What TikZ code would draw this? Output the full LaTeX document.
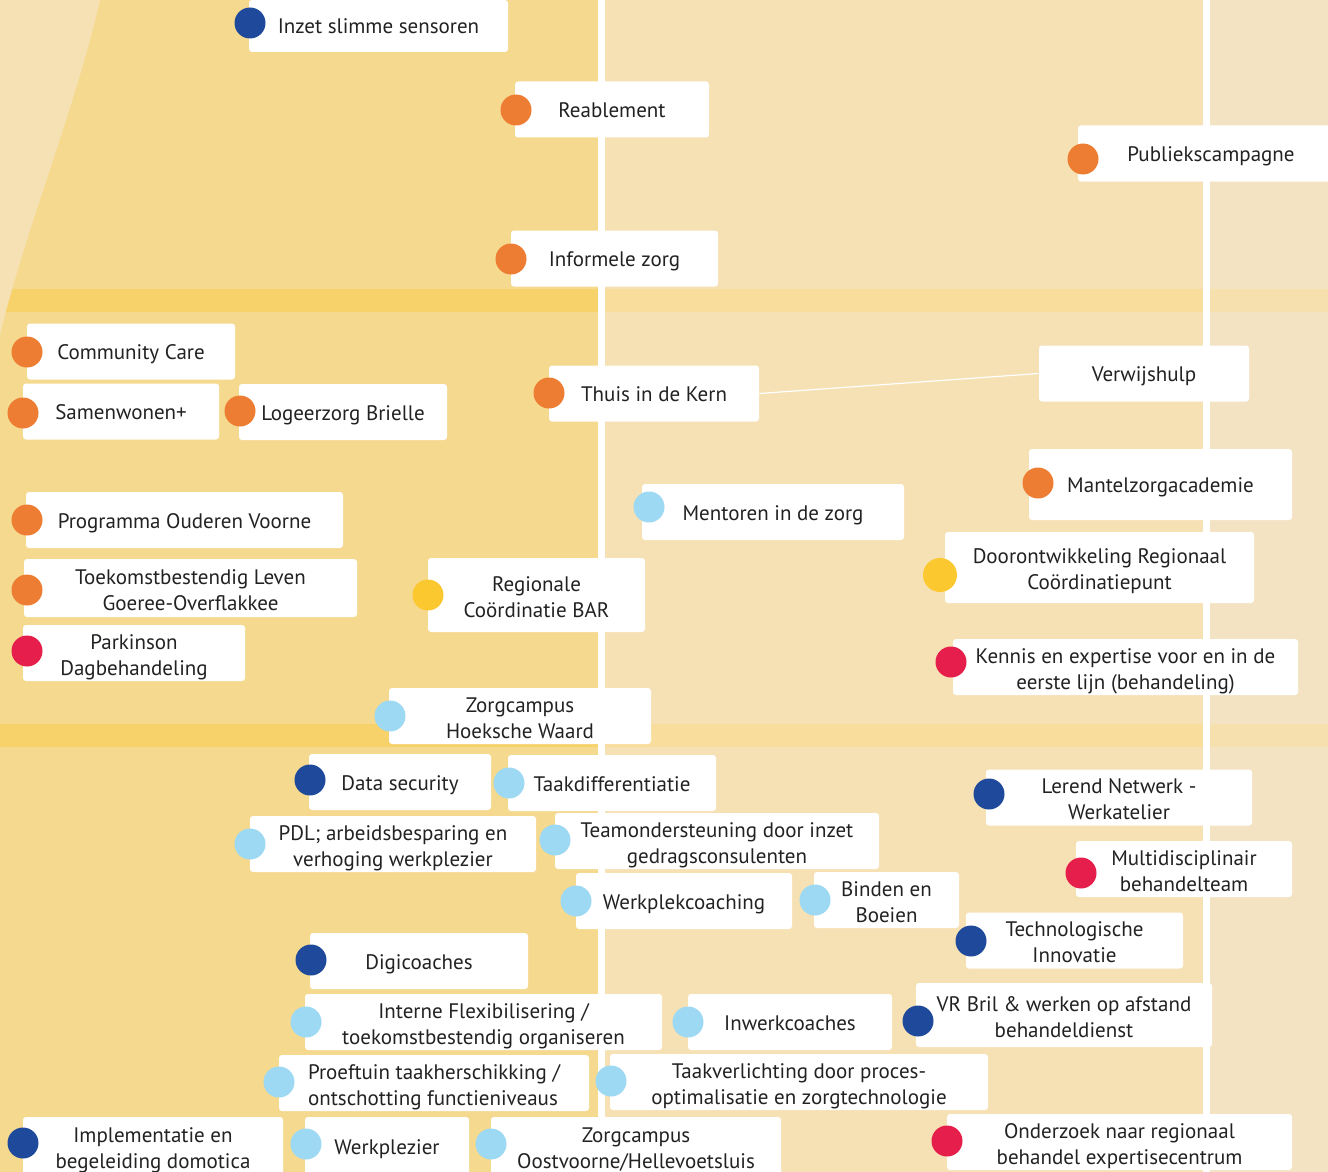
\documentclass[tikz,border=0pt]{standalone}
\usepackage{fontspec}
\setmainfont{PT Sans}

\definecolor{navy}{HTML}{1F4A9B}
\definecolor{oranje}{HTML}{ED7D33}
\definecolor{lichtblauw}{HTML}{9DD9F3}
\definecolor{geel}{HTML}{FBC82F}
\definecolor{rood}{HTML}{E51E4B}
\definecolor{bgleft}{HTML}{F5D98F}
\definecolor{bgmid}{HTML}{F6E1B4}
\definecolor{bgright}{HTML}{F3E3C3}
\definecolor{bandleft}{HTML}{F7D26A}
\definecolor{bandmid}{HTML}{F9DD9D}
\definecolor{bandright}{HTML}{F6E0AE}
\definecolor{tekst}{HTML}{222222}

\tikzset{
  item/.style={fill=white, rounded corners=1.5pt, inner sep=0pt, align=center,
    text=tekst, font=\fontsize{10.5}{13}\selectfont, minimum height=28pt,
    text height=8pt, text depth=0pt},
  twee/.style={item, text height=22pt},
  dot/.style={circle, fill=#1, inner sep=0pt, minimum size=15.5pt},
}

\begin{document}
\begin{tikzpicture}[x=0.5pt,y=-0.5pt]
	    \clip (0,0) rectangle (1328,1172);
	    % achtergrond
	    \fill[bgleft] (0,0) rectangle (601,1172);
	    \fill[bgmid] (601,0) rectangle (1206,1172);
	    \fill[bgright] (1206,0) rectangle (1328,1172);
	    \fill[bandleft] (0,289) rectangle (601,312);
	    \fill[bandleft] (0,724) rectangle (601,747);
	    \fill[bandmid] (601,289) rectangle (1206,312);
	    \fill[bandmid] (601,724) rectangle (1206,747);
	    \fill[bandright] (1206,289) rectangle (1328,312);
	    \fill[bandright] (1206,724) rectangle (1328,747);
	    \fill[bgmid] (0,0) -- (100,0) .. controls (75,110) and (25,230) .. (0,335) -- cycle;
	    \fill[white] (598,0) rectangle (605,1172);
	    \fill[white] (1203,0) rectangle (1210,1172);
	    % rij 1
	    \node[item, minimum width=129.5pt, minimum height=26pt] (inzet) at (378.5,26) {Inzet slimme sensoren};
	    \node[item, minimum width=97pt] (reable) at (612,109.5) {Reablement};
	    \node[item, minimum width=133pt] (publiek) at (1211,153.5) {Publiekscampagne};
	    \node[item, minimum width=103.5pt] (informele) at (614.5,258.5) {Informele zorg};
	    \node[dot=navy] (inzet-d) at (250,23) {};
	    \node[dot=oranje] (reable-d) at (516,110) {};
	    \node[dot=oranje] (publiek-d) at (1083,159) {};
	    \node[dot=oranje] (informele-d) at (511,259) {};
	    % rij 2
	    \node[item, minimum width=104pt] (community) at (131,351.5) {Community Care};
	    \node[item, minimum width=98pt] (samen) at (121,411.5) {Samenwonen+};
	    \node[item, minimum width=104pt] (logeer) at (343,412) {Logeerzorg Brielle};
	    \node[item, minimum width=105pt] (thuis) at (654,393.5) {Thuis in de Kern};
	    \node[item, minimum width=105pt] (verwijs) at (1144,373.5) {Verwijshulp};
	    \draw[white, line width=0.6pt] (thuis.east) -- (verwijs.west);
	    \node[item, minimum width=131.5pt, minimum height=35.5pt] (mantel) at (1160.5,484.5) {Mantelzorgacademie};
	    \node[item, minimum width=131pt] (mentoren) at (773,512) {Mentoren in de zorg};
	    \node[item, minimum width=158.5pt] (programma) at (184.5,520) {Programma Ouderen Voorne};
	    \node[twee, minimum width=166.5pt, minimum height=29pt] (toekomst) at (190.5,588) {Toekomstbestendig Leven\\Goeree-Overflakkee};
	    \node[twee, minimum width=108.5pt, minimum height=37pt] (regionale) at (536.5,595) {Regionale\\Coördinatie BAR};
	    \node[twee, minimum width=154.5pt, minimum height=35.5pt] (dooront) at (1099.5,567.5) {Doorontwikkeling Regionaal\\Coördinatiepunt};
	    \node[twee, minimum width=111pt] (parkinson) at (134,653) {Parkinson\\Dagbehandeling};
	    \node[twee, minimum width=172.5pt] (kennis) at (1125.5,667) {Kennis en expertise voor en in de\\eerste lijn (behandeling)};
	    \node[twee, minimum width=131pt] (zchw) at (520,716) {Zorgcampus\\Hoeksche Waard};
	    \node[dot=oranje] (community-d) at (27,352) {};
	    \node[dot=oranje] (samen-d) at (23,413) {};
	    \node[dot=oranje] (logeer-d) at (240,411) {};
	    \node[dot=oranje] (thuis-d) at (549,393) {};
	    \node[dot=oranje] (mantel-d) at (1038,483) {};
	    \node[dot=lichtblauw] (mentoren-d) at (649,507) {};
	    \node[dot=oranje] (programma-d) at (27,520) {};
	    \node[dot=oranje] (toekomst-d) at (27,590) {};
	    \node[dot=geel] (regionale-d) at (428,595) {};
	    \node[dot=geel, minimum size=17pt] (dooront-d) at (940,575) {};
	    \node[dot=rood] (parkinson-d) at (27,651) {};
	    \node[dot=rood] (kennis-d) at (951,662) {};
	    \node[dot=lichtblauw] (zchw-d) at (390,716) {};
	    % rij 3
	    \node[item, minimum width=91pt] (data) at (400,782) {Data security};
	    \node[item, minimum width=104pt] (taakdiff) at (612,783) {Taakdifferentiatie};
	    \node[twee, minimum width=133pt] (lerend) at (1119,797.5) {Lerend Netwerk -\\Werkatelier};
	    \node[twee, minimum width=143pt] (pdl) at (393,844) {PDL; arbeidsbesparing en\\verhoging werkplezier};
	    \node[twee, minimum width=162pt] (team) at (717,841) {Teamondersteuning door inzet\\gedragsconsulenten};
	    \node[twee, minimum width=108pt] (multi) at (1184,869) {Multidisciplinair\\behandelteam};
	    \node[item, minimum width=108pt] (werkplek) at (684,901) {Werkplekcoaching};
	    \node[twee, minimum width=72.5pt] (binden) at (886.5,900) {Binden en\\Boeien};
	    \node[twee, minimum width=108.5pt] (techno) at (1074.5,940.5) {Technologische\\Innovatie};
	    \node[item, minimum width=109pt] (digi) at (419,961) {Digicoaches};
	    \node[twee, minimum width=178.5pt] (interne) at (483.5,1022) {Interne Flexibilisering /\\toekomstbestendig organiseren};
	    \node[item, minimum width=102pt] (inwerk) at (790,1022) {Inwerkcoaches};
	    \node[twee, minimum width=148pt, minimum height=32pt] (vrbril) at (1064,1015) {VR Bril \& werken op afstand\\behandeldienst};
	    \node[twee, minimum width=155pt, align=left] (proeftuin) at (434,1083) {Proeftuin taakherschikking /\\ontschotting functieniveaus};
	    \node[twee, minimum width=189pt] (taakverl) at (799,1082) {Taakverlichting door proces-\\optimalisatie en zorgtechnologie};
	    \node[twee, minimum width=130pt, minimum height=29pt] (implem) at (153,1146) {Implementatie en\\begeleiding domotica};
	    \node[item, minimum width=82pt, minimum height=29pt] (werkplezier) at (387,1146) {Werkplezier};
	    \node[twee, minimum width=145pt, minimum height=29pt] (zcov) at (636,1146) {Zorgcampus\\Oostvoorne/Hellevoetsluis};
	    \node[twee, minimum width=172.5pt] (onderzoek) at (1119.5,1142) {Onderzoek naar regionaal\\behandel expertisecentrum};
	    \node[dot=navy] (data-d) at (310,780) {};
	    \node[dot=lichtblauw] (taakdiff-d) at (509,783) {};
	    \node[dot=navy] (lerend-d) at (989,794) {};
	    \node[dot=lichtblauw] (pdl-d) at (250,844) {};
	    \node[dot=lichtblauw] (team-d) at (555,840) {};
	    \node[dot=rood] (multi-d) at (1081,873) {};
	    \node[dot=lichtblauw] (werkplek-d) at (576,901) {};
	    \node[dot=lichtblauw] (binden-d) at (815,900) {};
	    \node[dot=navy] (techno-d) at (971,941) {};
	    \node[dot=navy] (digi-d) at (311,960) {};
	    \node[dot=lichtblauw] (interne-d) at (306,1022) {};
	    \node[dot=lichtblauw] (inwerk-d) at (688,1022) {};
	    \node[dot=navy] (vrbril-d) at (918,1021) {};
	    \node[dot=lichtblauw] (proeftuin-d) at (279,1082) {};
	    \node[dot=lichtblauw] (taakverl-d) at (611,1081) {};
	    \node[dot=navy] (implem-d) at (23,1143) {};
	    \node[dot=lichtblauw] (werkplezier-d) at (306,1144) {};
	    \node[dot=lichtblauw] (zcov-d) at (491,1144) {};
	    \node[dot=rood] (onderzoek-d) at (947,1141) {};
\end{tikzpicture}
\end{document}
